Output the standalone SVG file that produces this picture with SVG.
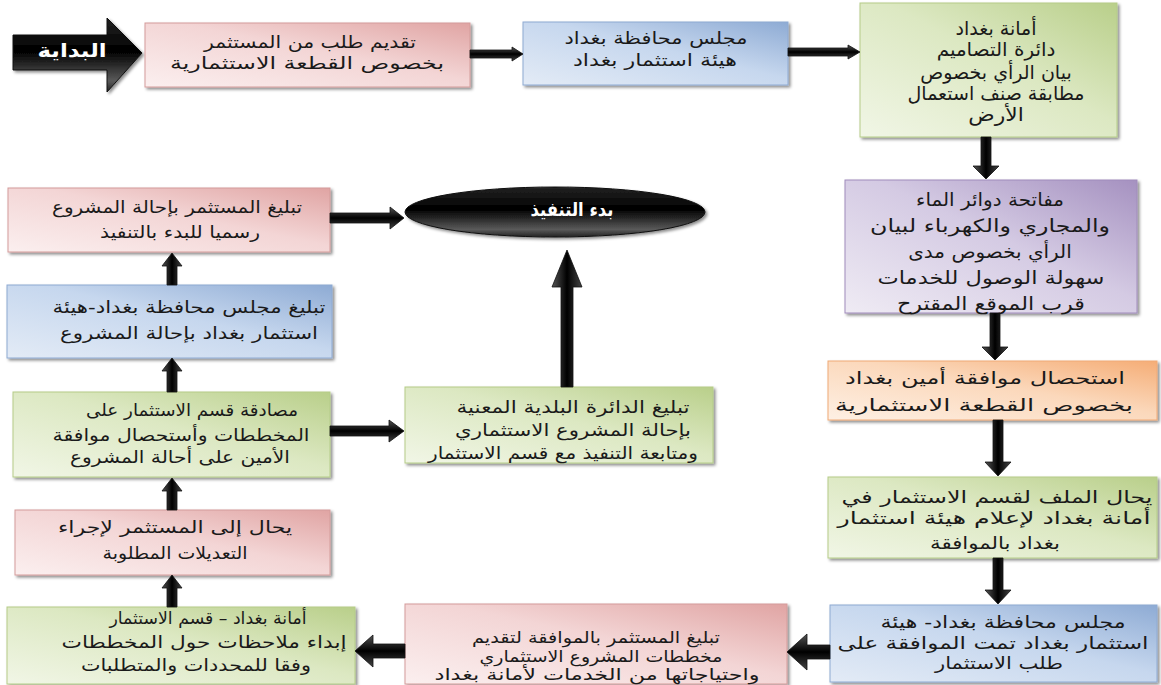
<svg xmlns="http://www.w3.org/2000/svg" width="1161" height="685" viewBox="0 0 1161 685">
<defs>
<linearGradient id="gPink" x1="0" y1="1" x2="1" y2="0"><stop offset="0" stop-color="#fbefef"/><stop offset="0.55" stop-color="#f3d5d5"/><stop offset="1" stop-color="#e0a4a3"/></linearGradient>
<linearGradient id="gBlue" x1="0" y1="1" x2="1" y2="0"><stop offset="0" stop-color="#e3ebf6"/><stop offset="0.55" stop-color="#c6d7ee"/><stop offset="1" stop-color="#8eabd4"/></linearGradient>
<linearGradient id="gGreen" x1="0" y1="1" x2="1" y2="0"><stop offset="0" stop-color="#f1f6e6"/><stop offset="0.55" stop-color="#dce8c2"/><stop offset="1" stop-color="#b9cf8a"/></linearGradient>
<linearGradient id="gPurple" x1="0" y1="1" x2="1" y2="0"><stop offset="0" stop-color="#efebf4"/><stop offset="0.55" stop-color="#d4cae3"/><stop offset="1" stop-color="#a591c0"/></linearGradient>
<linearGradient id="gOrange" x1="0" y1="1" x2="1" y2="0"><stop offset="0" stop-color="#fef0e4"/><stop offset="0.55" stop-color="#fbd8bb"/><stop offset="1" stop-color="#f5ad76"/></linearGradient>
<linearGradient id="gArrH" x1="0" y1="0" x2="0" y2="1"><stop offset="0" stop-color="#555"/><stop offset="0.5" stop-color="#000"/><stop offset="1" stop-color="#444"/></linearGradient>
<linearGradient id="gArrV" x1="0" y1="0" x2="1" y2="0"><stop offset="0" stop-color="#555"/><stop offset="0.5" stop-color="#000"/><stop offset="1" stop-color="#444"/></linearGradient>
<linearGradient id="gBlack" x1="0" y1="0" x2="0" y2="1"><stop offset="0" stop-color="#222"/><stop offset="0.45" stop-color="#000"/><stop offset="0.85" stop-color="#5a5a5a"/><stop offset="1" stop-color="#222"/></linearGradient>
<filter id="sh" x="-5%" y="-5%" width="115%" height="120%"><feDropShadow dx="2" dy="2" stdDeviation="1.5" flood-color="#000" flood-opacity="0.45"/></filter>
</defs>
<style>
text{font-family:"DejaVu Sans","Noto Sans",sans-serif;font-size:17px;fill:#1a1a1a;text-anchor:middle;dominant-baseline:central}
.w{fill:#fff;font-weight:bold;font-size:19px}
.big{font-size:18px}
.t3{font-size:19px}
.sm{font-size:16px}
.box{filter:url(#sh);stroke-width:1}
.pink{fill:url(#gPink);stroke:#d49c9b}
.blue{fill:url(#gBlue);stroke:#8eaad2}
.green{fill:url(#gGreen);stroke:#b5cc88}
.purple{fill:url(#gPurple);stroke:#a08cbb}
.orange{fill:url(#gOrange);stroke:#f0aa76}
.ah{fill:url(#gArrH);stroke:#111;stroke-width:0.8}
.av{fill:url(#gArrV);stroke:#111;stroke-width:0.8}
</style>

<g id="start">
<path d="M13,35 L107,35 L107,18 L142,53 L107,92 L107,70 L13,70 Z" fill="url(#gBlack)" stroke="#111" filter="url(#sh)"/>
<text class="w" transform="translate(72,51) scale(1.2,1)">البداية</text>
</g>

<g id="n1">
<rect class="box pink" x="145" y="23" width="325" height="64"/>
<text transform="translate(310,42) scale(1.2,1)">تقديم طلب من المستثمر</text>
<text x="307" y="63" textLength="274" lengthAdjust="spacingAndGlyphs">بخصوص القطعة الاستثمارية</text>
</g>

<g id="n2">
<rect class="box blue" x="523" y="22" width="265" height="63"/>
<text x="656" y="38" textLength="183" lengthAdjust="spacingAndGlyphs">مجلس محافظة بغداد</text>
<text x="655" y="60" textLength="164" lengthAdjust="spacingAndGlyphs">هيئة استثمار بغداد</text>
</g>

<g id="n3">
<rect class="box green" x="860" y="3" width="257" height="134"/>
<text class="t3" x="996" y="28">أمانة بغداد</text>
<text class="t3" transform="translate(996,50) scale(1.05,1)">دائرة التصاميم</text>
<text class="t3" x="996" y="72">بيان الرأي بخصوص</text>
<text class="t3" x="996" y="93">مطابقة صنف استعمال</text>
<text class="t3" transform="translate(996,115) scale(1.15,1)">الأرض</text>
</g>

<g id="n4">
<rect class="box purple" x="845" y="180" width="292" height="133"/>
<text class="big" transform="translate(990,199) scale(1.11,1)">مفاتحة دوائر الماء</text>
<text class="big" x="990" y="225" textLength="240" lengthAdjust="spacingAndGlyphs">والمجاري والكهرباء لبيان</text>
<text class="big" transform="translate(990,251) scale(1.11,1)">الرأي بخصوص مدى</text>
<text class="big" x="991" y="277" textLength="227" lengthAdjust="spacingAndGlyphs">سهولة الوصول للخدمات</text>
<text class="big" x="991" y="303" textLength="188" lengthAdjust="spacingAndGlyphs">قرب الموقع المقترح</text>
</g>

<g id="n5">
<rect class="box orange" x="828" y="361" width="329" height="59"/>
<text x="985" y="378" textLength="280" lengthAdjust="spacingAndGlyphs">استحصال موافقة أمين بغداد</text>
<text x="984" y="405" textLength="298" lengthAdjust="spacingAndGlyphs">بخصوص القطعة الاستثمارية</text>
</g>

<g id="n6">
<rect class="box green" x="828" y="477" width="329" height="81"/>
<text x="997" y="497" textLength="311" lengthAdjust="spacingAndGlyphs">يحال الملف لقسم الاستثمار في</text>
<text x="994" y="518" textLength="313" lengthAdjust="spacingAndGlyphs">أمانة بغداد لإعلام هيئة استثمار</text>
<text x="995" y="543" textLength="130" lengthAdjust="spacingAndGlyphs">بغداد بالموافقة</text>
</g>

<g id="n7">
<rect class="box blue" x="830" y="605" width="327" height="77"/>
<text x="1003" y="622" textLength="245" lengthAdjust="spacingAndGlyphs">مجلس محافظة بغداد- هيئة</text>
<text x="993" y="643" textLength="311" lengthAdjust="spacingAndGlyphs">استثمار بغداد تمت الموافقة على</text>
<text x="999" y="663" textLength="128" lengthAdjust="spacingAndGlyphs">طلب الاستثمار</text>
</g>

<g id="n8">
<rect class="box pink" x="405" y="604" width="382" height="80"/>
<text class="sm" x="596" y="637" textLength="248" lengthAdjust="spacingAndGlyphs">تبليغ المستثمر بالموافقة لتقديم</text>
<text class="sm" x="601" y="656" textLength="243" lengthAdjust="spacingAndGlyphs">مخططات المشروع الاستثماري</text>
<text class="sm" x="597" y="674" textLength="325" lengthAdjust="spacingAndGlyphs">واحتياجاتها من الخدمات لأمانة بغداد</text>
</g>

<g id="n9">
<rect class="box green" x="7" y="607" width="348" height="77"/>
<text x="208" y="618" textLength="197" lengthAdjust="spacingAndGlyphs">أمانة بغداد – قسم الاستثمار</text>
<text x="204" y="642" textLength="285" lengthAdjust="spacingAndGlyphs">إبداء ملاحظات حول المخططات</text>
<text x="196" y="665" textLength="230" lengthAdjust="spacingAndGlyphs">وفقا للمحددات والمتطلبات</text>
</g>

<g id="n10">
<rect class="box pink" x="15" y="510" width="315" height="65"/>
<text transform="translate(175,527) scale(1.3,1)">يحال إلى المستثمر لإجراء</text>
<text x="175" y="553" textLength="145" lengthAdjust="spacingAndGlyphs">التعديلات المطلوبة</text>
</g>

<g id="n11">
<rect class="box green" x="13" y="392" width="317" height="85"/>
<text x="192" y="410" textLength="212" lengthAdjust="spacingAndGlyphs">مصادقة قسم الاستثمار على</text>
<text x="181" y="435" textLength="257" lengthAdjust="spacingAndGlyphs">المخططات وأستحصال موافقة</text>
<text x="180" y="457" textLength="220" lengthAdjust="spacingAndGlyphs">الأمين على أحالة المشروع</text>
</g>

<g id="n12">
<rect class="box blue" x="7" y="285" width="325" height="73"/>
<text transform="translate(189,307) scale(1.25,1)">تبليغ مجلس محافظة بغداد-هيئة</text>
<text x="189" y="333" textLength="258" lengthAdjust="spacingAndGlyphs">استثمار بغداد بإحالة المشروع</text>
</g>

<g id="n13">
<rect class="box pink" x="8" y="188" width="322" height="64"/>
<text x="177" y="207" textLength="250" lengthAdjust="spacingAndGlyphs">تبليغ المستثمر بإحالة المشروع</text>
<text x="180" y="232" textLength="160" lengthAdjust="spacingAndGlyphs">رسميا للبدء بالتنفيذ</text>
</g>

<g id="n14">
<rect class="box green" x="405" y="387" width="308" height="76"/>
<text x="573" y="407" textLength="233" lengthAdjust="spacingAndGlyphs">تبليغ الدائرة البلدية المعنية</text>
<text transform="translate(573,430) scale(1.25,1)">بإحالة المشروع الاستثماري</text>
<text x="563" y="453" textLength="270" lengthAdjust="spacingAndGlyphs">ومتابعة التنفيذ مع قسم الاستثمار</text>
</g>

<g id="end">
<ellipse cx="555" cy="212" rx="150" ry="25" fill="url(#gBlack)" stroke="#111" filter="url(#sh)"/>
<text class="w" x="572" y="209" textLength="83" lengthAdjust="spacingAndGlyphs">بدء التنفيذ</text>
</g>

<g id="connectors">
<path class="ah" d="M470,50 L512,50 L512,47 L523,54 L512,61 L512,58 L470,58 Z"/>
<path class="ah" d="M788,48 L848,48 L848,45 L860,52 L848,59 L848,56 L788,56 Z"/>
<path class="av" d="M981,137 L991,137 L991,166 L999,166 L986,179 L973,166 L981,166 Z"/>
<path class="av" d="M990,313 L1000,313 L1000,347 L1008,347 L995,360 L982,347 L990,347 Z"/>
<path class="av" d="M993,420 L1003,420 L1003,462 L1011,462 L998,476 L985,462 L993,462 Z"/>
<path class="av" d="M993,558 L1003,558 L1003,590 L1011,590 L998,604 L985,590 L993,590 Z"/>
<path class="ah" d="M830,645 L807,645 L807,634 L787,652 L807,670 L807,659 L830,659 Z"/>
<path class="ah" d="M405,644 L373,644 L373,635 L355,651 L373,667 L373,658 L405,658 Z"/>
<path class="av" d="M167,607 L177,607 L177,588 L182,588 L172,575 L162,588 L167,588 Z"/>
<path class="av" d="M167,510 L177,510 L177,491 L182,491 L172,478 L162,491 L167,491 Z"/>
<path class="av" d="M167,392 L177,392 L177,371 L182,371 L172,358 L162,371 L167,371 Z"/>
<path class="av" d="M167,285 L177,285 L177,266 L182,266 L172,253 L162,266 L167,266 Z"/>
<path class="ah" d="M330,213 L390,213 L390,207 L404,218 L390,229 L390,223 L330,223 Z"/>
<path class="ah" d="M330,426 L389,426 L389,420 L404,431 L389,442 L389,436 L330,436 Z"/>
<path class="av" d="M561,387 L573,387 L573,287 L582,287 L567,250 L552,287 L561,287 Z"/>
</g>
</svg>
